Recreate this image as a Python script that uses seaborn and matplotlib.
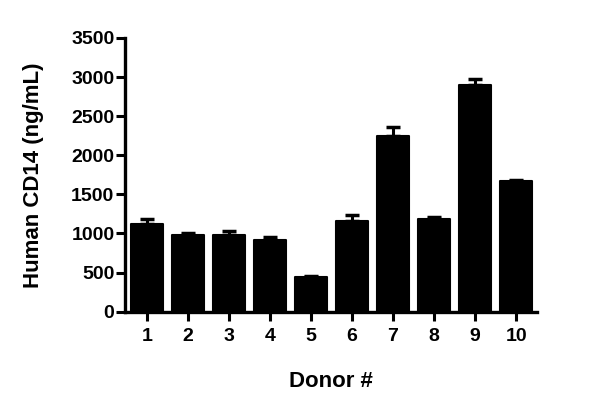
import matplotlib
matplotlib.use("Agg")
import matplotlib.pyplot as plt
import seaborn as sns
import numpy as np
import pandas as pd

donors = ["1", "2", "3", "4", "5", "6", "7", "8", "9", "10"]
means = [1120, 980, 975, 920, 440, 1160, 2250, 1180, 2900, 1670]
errors = [70, 20, 60, 35, 20, 75, 110, 25, 75, 12]
yticks = [0, 500, 1000, 1500, 2000, 2500, 3000, 3500]

sns.set_theme(style="ticks")
plt.rcParams['font.family'] = ['Liberation Sans', 'DejaVu Sans']
plt.rcParams['font.weight'] = 'bold'

df = pd.DataFrame({"donor": donors, "value": means})

fig = plt.figure(figsize=(6, 4.11), dpi=100)
ax = fig.add_axes([0.208, 0.2416, 0.687, 0.666])

sns.barplot(data=df, x="donor", y="value", color="black", width=0.76,
            edgecolor="black", linewidth=1.5, ax=ax, errorbar=None)
for p in ax.patches:
    p.set_joinstyle("round")
    p.set_facecolor("black")

x = np.arange(len(donors))
ax.errorbar(x, means, yerr=[np.zeros(len(errors)), errors], fmt="none",
            ecolor="black", elinewidth=2.2, capsize=4.7, capthick=2.5, zorder=1)

ax.set_xlim(-0.54, 9.51)
ax.set_ylim(0, 3500)
ax.set_yticks(yticks)
ax.set_yticklabels([str(t) for t in yticks])

for s in ["top", "right"]:
    ax.spines[s].set_visible(False)
for s in ["left", "bottom"]:
    ax.spines[s].set_linewidth(2.4)
    ax.spines[s].set_color("black")

ax.tick_params(axis="both", direction="out", length=6.5, width=2.2, color="black",
               labelsize=14, labelcolor="black", pad=1)
ax.tick_params(axis="x", pad=5)
for lab in ax.get_xticklabels() + ax.get_yticklabels():
    lab.set_fontweight("bold")

ax.set_xlabel("Donor #", fontsize=16, fontweight="bold", color="black")
ax.set_ylabel("Human CD14 (ng/mL)", fontsize=16, fontweight="bold", color="black")
ax.xaxis.set_label_coords(0.5, -0.215)
ax.yaxis.set_label_coords(-0.195, 0.5)

fig.savefig("out.png", dpi=100)
